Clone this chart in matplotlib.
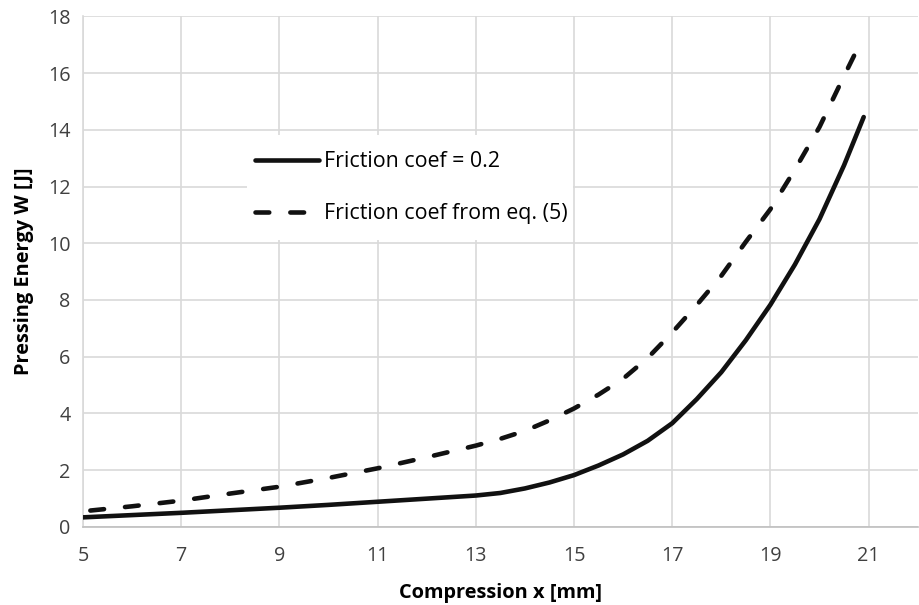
import matplotlib
matplotlib.use("Agg")
import matplotlib.pyplot as plt
from matplotlib.patches import Rectangle

# Data
x_solid = [5.0, 6.0, 7.0, 8.0, 9.0, 10.0, 11.0, 12.0, 13.0, 13.5, 14.0, 14.5, 15.0, 15.5,
           16.0, 16.5, 17.0, 17.5, 18.0, 18.5, 19.0, 19.5, 20.0, 20.5, 20.9]
y_solid = [0.33, 0.41, 0.49, 0.58, 0.67, 0.77, 0.88, 0.99, 1.10, 1.19, 1.35, 1.56, 1.82, 2.16,
           2.55, 3.03, 3.65, 4.50, 5.45, 6.58, 7.83, 9.25, 10.85, 12.75, 14.45]

x_dash = [5.15, 6.0, 7.0, 8.0, 9.0, 10.0, 11.0, 12.0, 13.0, 13.5, 14.0, 14.5, 15.0, 15.5, 16.0,
          16.5, 17.0, 17.5, 18.0, 18.5, 19.0, 19.5, 20.0, 20.5, 20.8]
y_dash = [0.57, 0.72, 0.92, 1.17, 1.41, 1.72, 2.06, 2.45, 2.86, 3.10, 3.38, 3.75, 4.17, 4.66,
          5.22, 5.95, 6.85, 7.82, 8.85, 10.05, 11.20, 12.60, 14.10, 15.90, 16.95]

labels = ["Friction coef = 0.2", "Friction coef from eq. (5)"]
xticks = [5, 7, 9, 11, 13, 15, 17, 19, 21]
yticks = [0, 2, 4, 6, 8, 10, 12, 14, 16, 18]

plt.rcParams['font.family'] = ['Open Sans', 'DejaVu Sans']

fig = plt.figure(figsize=(9.19, 6.05), dpi=100)
ax = fig.add_axes([0.0903, 0.1294, 0.9083, 0.8435])

ax.plot(x_solid, y_solid, color='#111111', lw=3.3, solid_capstyle='round',
        solid_joinstyle='round', label=labels[0], zorder=3)
ax.plot(x_dash, y_dash, color='#111111', lw=3.3, dashes=(3.0, 4.6), dash_capstyle='round',
        dash_joinstyle='round', label=labels[1], zorder=3)

ax.set_xlim(5, 22)
ax.set_ylim(0, 18)
ax.set_xticks(xticks)
ax.set_yticks(yticks)
ax.grid(True, color='#d9d9d9', lw=1.2)
ax.set_axisbelow(True)
for s in ['top', 'right']:
    ax.spines[s].set_visible(False)
ax.spines['left'].set_color('#d9d9d9')
ax.spines['left'].set_linewidth(1.2)
ax.spines['bottom'].set_color('#bfbfbf')
ax.spines['bottom'].set_linewidth(1.2)
ax.tick_params(axis='both', length=0, labelsize=14.2, labelcolor='#404040')
ax.tick_params(axis='x', pad=14)
ax.tick_params(axis='y', pad=9)

ax.set_xlabel("Compression x [mm]", fontsize=14.4, fontweight='bold', labelpad=12)
ax.set_ylabel("Pressing Energy W [J]", fontsize=14.4, fontweight='bold', labelpad=10)

# white legend background box
ax.add_patch(Rectangle((0.1966, 0.5618), 0.391, 0.2058, transform=ax.transAxes,
                       facecolor='white', edgecolor='none', zorder=2.5))

leg = ax.legend(loc='center left', bbox_to_anchor=(0.2062, 0.664), fontsize=15.4,
                frameon=False, handlelength=3.0, handletextpad=0.23, labelspacing=1.45,
                borderpad=0, borderaxespad=0)
leg.set_zorder(4)

fig.savefig("out.png", dpi=100)
